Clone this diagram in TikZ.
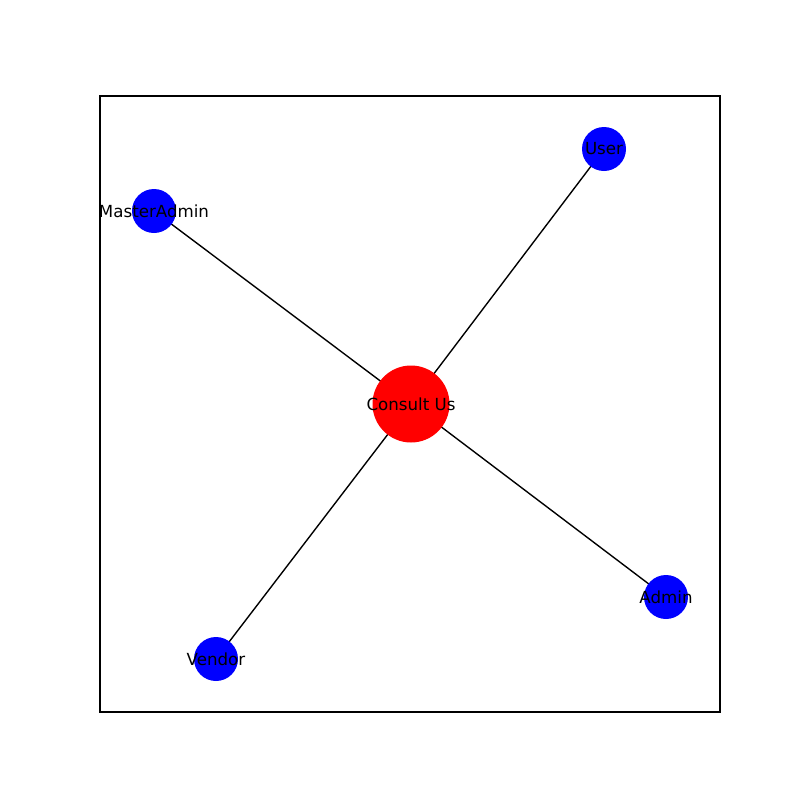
\documentclass[tikz,border=0pt]{standalone}
\usepackage{fontspec}
\setmainfont{DejaVu Sans}
\begin{document}
\begin{tikzpicture}[x=0.72pt,y=-0.72pt,
  bluedot/.style={circle,fill={rgb,255:red,0;green,0;blue,255},draw=none,minimum size=44*0.72pt,inner sep=0pt},
  reddot/.style={circle,fill={rgb,255:red,255;green,0;blue,0},draw=none,minimum size=77*0.72pt,inner sep=0pt},
  lbl/.style={font=\fontsize{12pt}{14pt}\selectfont,text=black,inner sep=0pt},
  edge/.style={draw=black,line width=1pt}]
\useasboundingbox (0,0) rectangle (800,800);
\draw[line width=0.8pt] (100,96) rectangle (720,712);
\coordinate (pc) at (411,404);
\coordinate (pu) at (604,149);
\coordinate (pm) at (154,211);
\coordinate (pa) at (666,597);
\coordinate (pv) at (216,659);
\draw[edge] (pc) -- (pu);
\draw[edge] (pc) -- (pm);
\draw[edge] (pc) -- (pa);
\draw[edge] (pc) -- (pv);
\node[reddot] (c) at (pc) {};
\node[bluedot] (u) at (pu) {};
\node[bluedot] (m) at (pm) {};
\node[bluedot] (a) at (pa) {};
\node[bluedot] (v) at (pv) {};
\node[lbl] (lc) at (pc) {Consult Us};
\node[lbl] (lu) at (pu) {User};
\node[lbl] (lm) at (pm) {MasterAdmin};
\node[lbl] (la) at (pa) {Admin};
\node[lbl] (lv) at (pv) {Vendor};
\end{tikzpicture}
\end{document}
